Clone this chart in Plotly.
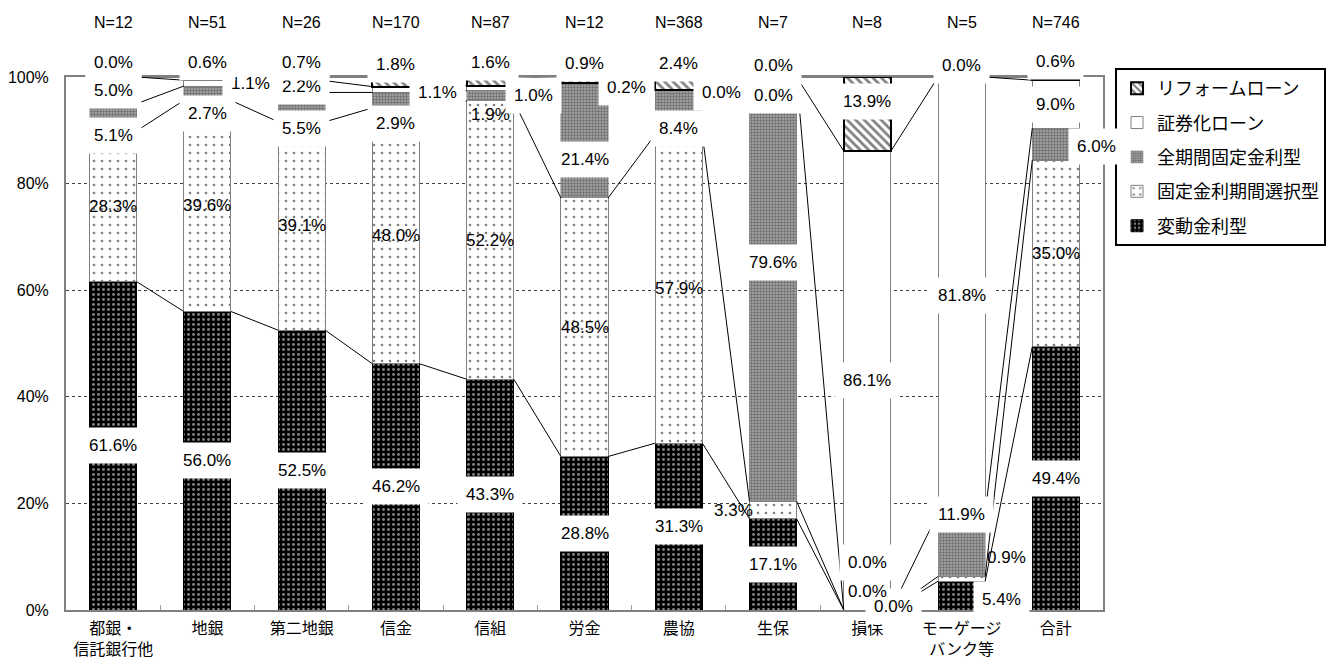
import plotly.graph_objects as go

# ---------------- data ----------------
categories = ["都銀・<br>信託銀行他", "地銀", "第二地銀", "信金", "信組", "労金",
              "農協", "生保", "損保", "モーゲージ<br>バンク等", "合計"]
n_labels = ["N=12", "N=51", "N=26", "N=170", "N=87", "N=12",
            "N=368", "N=7", "N=8", "N=5", "N=746"]
series_names = ["変動金利型", "固定金利期間選択型", "全期間固定金利型", "証券化ローン", "リフォームローン"]
hendo = [61.6, 56.0, 52.5, 46.2, 43.3, 28.8, 31.3, 17.1, 0.0, 5.4, 49.4]
kotei_sentaku = [28.3, 39.6, 39.1, 48.0, 52.2, 48.5, 57.9, 3.3, 0.0, 0.9, 35.0]
zenkikan = [5.1, 2.7, 5.5, 2.9, 1.9, 21.4, 8.4, 79.6, 0.0, 11.9, 6.0]
shokenka = [5.0, 1.1, 2.2, 1.1, 1.0, 0.2, 0.0, 0.0, 86.1, 81.8, 9.0]
reform = [0.0, 0.6, 0.7, 1.8, 1.6, 0.9, 2.4, 0.0, 13.9, 0.0, 0.6]
y_ticks = [0, 20, 40, 60, 80, 100]
y_tick_labels = ["0%", "20%", "40%", "60%", "80%", "100%"]

series_values = [hendo, kotei_sentaku, zenkikan, shokenka, reform]

# ---------------- styles ----------------
FONT = "Liberation Sans, Arial, Noto Sans CJK JP, sans-serif"
BAR_W = 0.5
styles = [
    dict(color="black",
         pattern=dict(shape=".", bgcolor="black", fgcolor="white", size=5, solidity=0.28),
         line=dict(color="black", width=1)),
    dict(color="white",
         pattern=dict(shape=".", bgcolor="white", fgcolor="black", size=8, solidity=0.09),
         line=dict(color="#808080", width=1)),
    dict(color="#888888",
         pattern=dict(shape=".", bgcolor="#aaaaaa", fgcolor="#303030", size=3, solidity=0.5),
         line=dict(color="#808080", width=0.5)),
    dict(color="white",
         pattern=dict(shape="", bgcolor="white"),
         line=dict(color="#808080", width=1)),
    dict(color="white",
         pattern=dict(shape="\\", bgcolor="white", fgcolor="black", size=6, solidity=0.45),
         line=dict(color="black", width=2)),
]

# label displacement (screen px; dx right, dy down) keyed by (category, series)
label_offsets = {
    (0, 2): (0, 18), (0, 4): (0, -15),
    (1, 2): (0, 20), (1, 3): (43, 0), (1, 4): (0, -16),
    (2, 2): (0, 21), (2, 4): (0, -16),
    (3, 2): (0, 23), (3, 3): (42, 3), (3, 4): (0, -17),
    (4, 2): (0, 19), (4, 3): (43, 7), (4, 4): (0, -19),
    (5, 2): (0, 19), (5, 3): (42, 4), (5, 4): (0, -17),
    (6, 2): (0, 16), (6, 3): (43, 3), (6, 4): (0, -20),
    (7, 1): (-40, 0), (7, 2): (0, -27), (7, 3): (0, 18), (7, 4): (0, -12),
    (8, 0): (26, -4), (8, 1): (0, -19), (8, 2): (0, -48), (8, 4): (0, -13),
    (9, 0): (40, 4), (9, 1): (45, -21), (9, 2): (0, -30), (9, 4): (0, -12),
    (10, 2): (41, 2), (10, 4): (0, -17),
}
no_box_labels = {(4, 2)}

x_pos = list(range(len(categories)))

fig = go.Figure()

for s, (name, vals, st) in enumerate(zip(series_names, series_values, styles)):
    fig.add_trace(go.Bar(
        x=x_pos, y=vals, name=name, width=BAR_W,
        marker=dict(color=st["color"], pattern=st["pattern"], line=st["line"]),
        legendgroup=f"g{s}", legendrank=100 - s, hoverinfo="skip",
    ))

# series lines connecting cumulative tops
cum = []
running = [0.0] * len(categories)
for vals in series_values:
    running = [a + b for a, b in zip(running, vals)]
    cum.append(list(running))

for s, c in enumerate(cum):
    xs, ys = [], []
    for i in range(len(categories) - 1):
        xs += [x_pos[i] + BAR_W / 2, x_pos[i + 1] - BAR_W / 2, None]
        ys += [c[i], c[i + 1], None]
    fig.add_trace(go.Scatter(x=xs, y=ys, mode="lines",
                             line=dict(color="black", width=1),
                             showlegend=False, hoverinfo="skip"))

annotations = []
for s, vals in enumerate(series_values):
    for i, v in enumerate(vals):
        base = cum[s][i] - v
        dx, dy = label_offsets.get((i, s), (0, 0))
        boxed = (s != 1) and ((i, s) not in no_box_labels)
        annotations.append(dict(
            x=x_pos[i], y=base + v / 2, xref="x", yref="y",
            xanchor="center", yanchor="middle",
            text=f"{v:.1f}%", showarrow=False,
            xshift=dx, yshift=-dy,
            font=dict(size=17, color="black", family=FONT),
            bgcolor="white" if boxed else "rgba(0,0,0,0)",
            borderpad=8,
        ))

for i, t in enumerate(n_labels):
    annotations.append(dict(
        x=x_pos[i], y=1.103, xref="x", yref="paper", text=t, showarrow=False,
        xanchor="center", yanchor="middle",
        font=dict(size=16, color="black", family=FONT),
    ))

fig.update_layout(
    width=1330, height=656,
    barmode="stack", bargap=0.5,
    plot_bgcolor="white", paper_bgcolor="white",
    margin=dict(l=58, r=235, t=69, b=54, autoexpand=False),
    font=dict(family=FONT, color="black", size=16),
    annotations=annotations,
    legend=dict(
        x=1.0116, xanchor="left", y=1.017, yanchor="top",
        bordercolor="black", borderwidth=2, bgcolor="white",
        font=dict(size=18, family=FONT),
        traceorder="grouped", tracegroupgap=8,
    ),
    xaxis=dict(
        range=[-0.5, len(categories) - 0.5],
        tickvals=x_pos, ticktext=categories,
        showgrid=False, zeroline=False, automargin=False,
        showline=True, linecolor="#808080", linewidth=2, mirror=True,
        ticks="", tickfont=dict(size=16), ticklabelstandoff=3,
        minor=dict(tickvals=[i + 0.5 for i in x_pos[:-1]], ticks="inside",
                   ticklen=5, tickcolor="#a0a0a0", showgrid=False),
    ),
    yaxis=dict(
        range=[0, 100], tickvals=y_ticks, ticktext=y_tick_labels,
        showgrid=True, gridcolor="#404040", griddash="dot", gridwidth=1,
        zeroline=False, automargin=False,
        showline=True, linecolor="#808080", linewidth=2, mirror=True,
        ticks="", tickfont=dict(size=16), ticklabelstandoff=12,
    ),
)

fig.write_html("out.html")
